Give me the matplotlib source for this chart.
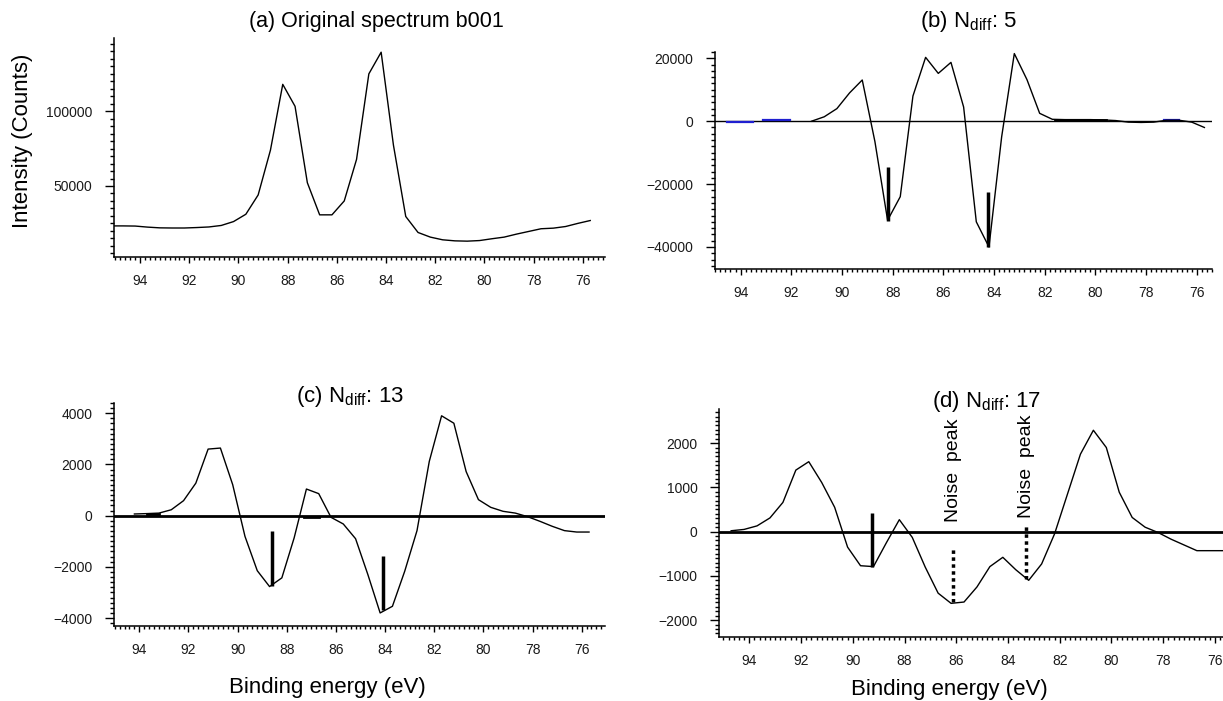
import matplotlib
matplotlib.use('Agg')
import matplotlib.pyplot as plt
from matplotlib.ticker import MultipleLocator

plt.rcParams['font.family'] = ['Liberation Sans', 'DejaVu Sans']
plt.rcParams['mathtext.fontset'] = 'custom'
plt.rcParams['mathtext.rm'] = 'Liberation Sans'
plt.rcParams['mathtext.it'] = 'Liberation Sans'
plt.rcParams['mathtext.default'] = 'regular'

# binding energy grid (eV), 0.5 eV steps
energy = [95.2, 94.7, 94.2, 93.7, 93.2, 92.7, 92.2, 91.7, 91.2, 90.7,
          90.2, 89.7, 89.2, 88.7, 88.2, 87.7, 87.2, 86.7, 86.2, 85.7,
          85.2, 84.7, 84.2, 83.7, 83.2, 82.7, 82.2, 81.7, 81.2, 80.7,
          80.2, 79.7, 79.2, 78.7, 78.2, 77.7, 77.2, 76.7, 76.2, 75.7]

# (a) original spectrum
counts_a = [23300, 23300, 23200, 22500, 22000, 21900, 21900, 22200, 22600, 23600,
            26200, 31100, 44000, 74000, 118000, 103300, 52200, 30700, 30700, 40000,
            67800, 125000, 139500, 77300, 29600, 18900, 15800, 14000, 13300, 13100,
            13500, 14700, 15800, 17800, 19600, 21400, 21800, 22900, 25000, 26900]

# (b) Ndiff 5, starts at 91.2 eV
energy_b = energy[8:]
diff_b = [0, 1400, 4000, 9000, 13100, -6500, -31500, -24000, 8000, 20300,
          15200, 18700, 4500, -32000, -40000, -5000, 21500, 13200, 2500, 600,
          500, 500, 500, 400, 200, -300, -400, -300, 300, 300, -300, -2000]
blue_b = [(94.55, 93.5, -350), (93.1, 92.05, 350), (77.3, 76.7, 350)]
thick_b = [(81.6, 79.6, 500)]
marks_b_x = [88.2, 84.25]
marks_b_top = [-14500, -22500]
marks_b_bot = [-31600, -40000]

# (c) Ndiff 13, starts at 94.2 eV
energy_c = energy[2:]
diff_c = [65, 80, 100, 230, 585, 1270, 2600, 2640, 1210, -810,
          -2150, -2770, -2430, -870, 1040, 860, -65, -325, -900, -2300,
          -3800, -3540, -2170, -585, 2120, 3900, 3610, 1720, 625, 325,
          170, 100, -40, -220, -415, -585, -640, -640]
thick_c = [(93.7, 93.2, 70), (87.3, 86.7, -60)]
marks_c_x = [88.62, 84.1]
marks_c_top = [-610, -1590]
marks_c_bot = [-2760, -3700]

# (d) Ndiff 17, starts at 94.7 eV
energy_d = energy[1:]
diff_d = [20, 50, 130, 310, 660, 1390, 1580, 1110, 550, -350,
          -770, -790, -250, 270, -130, -800, -1390, -1620, -1590, -1250,
          -790, -580, -860, -1100, -730, -50, 850, 1750, 2290, 1900,
          890, 320, 100, -20, -170, -300, -430, -430, -430]
solid_d = (89.27, 413, -800)
dotted_d_x = [86.12, 83.3]
dotted_d_top = [-390, 135]
dotted_d_bot = [-1590, -1065]
noise_y = [226, 302]

W, H = 1223, 701
fig = plt.figure(figsize=(W / 100, H / 100), dpi=100)


def px_axes(l, t, r, b):
    return fig.add_axes([l / W, 1 - b / H, (r - l) / W, (b - t) / H])


def style(ax, xlim, ylim, ymaj, ymin):
    ax.set_xlim(*xlim)
    ax.set_ylim(*ylim)
    for s in ['top', 'right']:
        ax.spines[s].set_visible(False)
    for s in ['left', 'bottom']:
        ax.spines[s].set_linewidth(1.1)
    ax.xaxis.set_major_locator(MultipleLocator(2))
    ax.xaxis.set_minor_locator(MultipleLocator(0.2))
    ax.yaxis.set_major_locator(MultipleLocator(ymaj))
    ax.yaxis.set_minor_locator(MultipleLocator(ymin))
    ax.tick_params(which='both', direction='out', width=1.0,
                   labelsize=10, labelcolor='#1a1a1a')
    ax.tick_params(axis='x', which='major', length=4.5, pad=8)
    ax.tick_params(axis='x', which='minor', length=2.2)
    ax.tick_params(axis='y', which='major', length=6.5, pad=9)
    ax.tick_params(axis='y', which='minor', length=3)


# (a)
ax = px_axes(114, 38, 605, 257)
ax.plot(energy, counts_a, color='black', lw=1.0)
style(ax, (95.06, 75.1), (2500, 149000), 50000, 5000)

# (b)
ax = px_axes(715, 52, 1212, 269)
ax.axhline(0, color='black', lw=1.0)
for x0, x1, y in blue_b:
    ax.plot([x0, x1], [y, y], color='#1f1fd0', lw=1.6)
for x0, x1, y in thick_b:
    ax.plot([x0, x1], [y, y], color='black', lw=2.0)
ax.plot(energy_b, diff_b, color='black', lw=1.0)
ax.vlines(marks_b_x, marks_b_bot, marks_b_top, color='black', lw=2.5)
style(ax, (95.01, 75.4), (-47000, 22000), 20000, 2000)

# (c)
ax = px_axes(114, 403, 605, 626)
ax.axhline(0, color='black', lw=2.0)
for x0, x1, y in thick_c:
    ax.plot([x0, x1], [y, y], color='black', lw=2.0)
ax.plot(energy_c, diff_c, color='black', lw=1.0)
ax.vlines(marks_c_x, marks_c_bot, marks_c_top, color='black', lw=2.5)
style(ax, (95.03, 75.05), (-4310, 4400), 2000, 200)

# (d)
ax = px_axes(719, 409, 1223, 637)
ax.axhline(0, color='black', lw=2.0)
ax.plot(energy_d, diff_d, color='black', lw=1.0)
ax.vlines(solid_d[0], solid_d[2], solid_d[1], color='black', lw=2.5)
ax.vlines(dotted_d_x, dotted_d_bot, dotted_d_top, color='black', lw=2.5,
          linestyles=(0, (1, 1)))
for x, y in zip(dotted_d_x, noise_y):
    ax.text(x, y, 'Noise  peak', rotation=90, ha='center', va='bottom',
            fontsize=14)
style(ax, (95.17, 75.69), (-2380, 2770), 1000, 100)

# titles and axis labels
fig.text(376 / W, 1 - 22 / H, '(a) Original spectrum b001', ha='center',
         va='center', fontsize=15.5)
fig.text(968 / W, 1 - 22 / H, r'(b) N$_{diff}$: 5', ha='center',
         va='center', fontsize=16)
fig.text(350 / W, 1 - 397 / H, r'(c) N$_{diff}$: 13', ha='center',
         va='center', fontsize=16)
fig.text(987 / W, 1 - 402 / H, r'(d) N$_{diff}$: 17', ha='center',
         va='center', fontsize=16)
fig.text(23 / W, 1 - 141 / H, 'Intensity (Counts)', rotation=90,
         ha='center', va='center', fontsize=16)
fig.text(327 / W, 1 - 687 / H, 'Binding energy (eV)', ha='center',
         va='center', fontsize=16)
fig.text(949 / W, 1 - 690 / H, 'Binding energy (eV)', ha='center',
         va='center', fontsize=16)

fig.savefig('out.png', dpi=100)
